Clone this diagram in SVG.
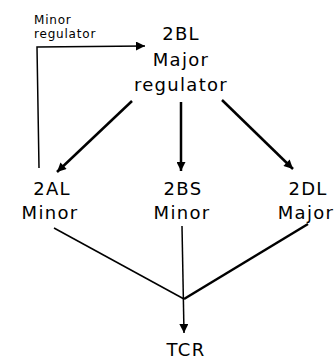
<svg xmlns="http://www.w3.org/2000/svg" width="336" height="360" viewBox="0 0 336 360">
<defs>
<style>
text{font-family:"DejaVu Sans","Liberation Sans",sans-serif;fill:#000;text-anchor:middle}
.big{font-size:18px;letter-spacing:1.3px}
.small{font-size:12px;letter-spacing:0.8px;text-anchor:start}
.ln{stroke:#000;fill:none;stroke-width:1.5}
.th{stroke:#000;fill:none;stroke-width:2.5}
</style>
<marker id="ahb" viewBox="0 0 10 10" refX="10" refY="5" markerWidth="14" markerHeight="9" markerUnits="userSpaceOnUse" orient="auto">
<path d="M0,0L10,5L0,10z" fill="#000"/>
</marker>
</defs>
<g id="connectors">
<path class="ln" d="M39,168 L37,47 L145,46" marker-end="url(#ahb)"/>
<line class="th" x1="132" y1="101" x2="57" y2="172" marker-end="url(#ahb)"/>
<line class="th" x1="181" y1="102" x2="181" y2="171" marker-end="url(#ahb)"/>
<line class="th" x1="222" y1="100" x2="293" y2="169" marker-end="url(#ahb)"/>
<line class="ln" x1="54" y1="228" x2="184" y2="299"/>
<line class="th" x1="308" y1="224" x2="184" y2="299"/>
<line class="ln" x1="182" y1="226" x2="184" y2="333" marker-end="url(#ahb)"/>
</g>
<g id="minor-regulator">
<text class="small" x="34" y="24">Minor</text>
<text class="small" x="34" y="38">regulator</text>
</g>
<g id="n2BL">
<text class="big" x="181" y="40">2BL</text>
<text class="big" x="181" y="66">Major</text>
<text class="big" x="181" y="91">regulator</text>
</g>
<g id="n2AL">
<text class="big" x="52" y="195">2AL</text>
<text class="big" x="50" y="219">Minor</text>
</g>
<g id="n2BS">
<text class="big" x="183" y="195">2BS</text>
<text class="big" x="182" y="219">Minor</text>
</g>
<g id="n2DL">
<text class="big" x="308" y="195">2DL</text>
<text class="big" x="306" y="219">Major</text>
</g>
<g id="TCR">
<text class="big" x="186" y="356">TCR</text>
</g>
</svg>
